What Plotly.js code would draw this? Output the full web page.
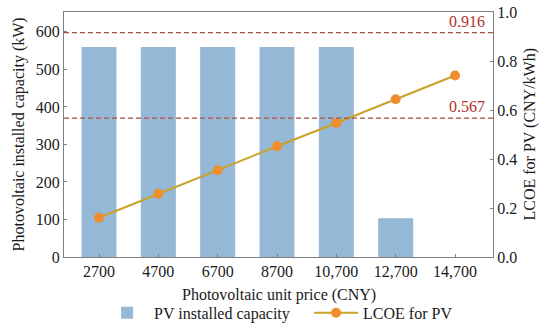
<!DOCTYPE html>
<html>
<head>
<meta charset="utf-8">
<script src="https://cdn.plot.ly/plotly-3.0.1.min.js"></script>
<style>html,body{margin:0;padding:0;background:#fff;}#chart{width:550px;height:331px;}</style>
</head>
<body>
<div id="chart"></div>
<script>
var categories = ["2700", "4700", "6700", "8700", "10,700", "12,700", "14,700"];
var capacity = [560, 560, 560, 560, 560, 103, 0];
var lcoe = [0.160, 0.258, 0.354, 0.452, 0.547, 0.644, 0.741];
var refValues = [0.916, 0.567];
var refLabels = ["0.916", "0.567"];
var xTitle = "Photovoltaic unit price (CNY)";
var yTitle = "Photovoltaic installed capacity (kW)";
var y2Title = "LCOE for PV (CNY/kWh)";

var font = {family: "Liberation Serif, Times New Roman, serif", size: 16, color: "#1a1a1a"};
var axisColor = "#7f7f7f";

var traces = [
  {
    type: "bar", x: categories, y: capacity, name: "PV installed capacity",
    marker: {color: "#94b8d6"}, width: 0.59, yaxis: "y", legend: "legend"
  },
  {
    type: "scatter", mode: "lines+markers", x: categories, y: lcoe, name: "LCOE for PV",
    line: {color: "#c9a227", width: 2}, marker: {color: "#ef8e2c", size: 10},
    yaxis: "y2", legend: "legend2"
  }
];

var shapes = refValues.map(function (v) {
  return {type: "line", xref: "paper", x0: 0, x1: 1, yref: "y2", y0: v, y1: v,
          line: {color: "#a9503c", width: 1.3, dash: "5px,3px"}};
});
var annotations = refValues.map(function (v, i) {
  return {xref: "paper", x: 0.985, xanchor: "right", yref: "y2", y: v, yanchor: "bottom",
          text: refLabels[i], showarrow: false, yshift: 1,
          font: {family: font.family, size: 16, color: "#b2322a"}};
});
annotations.push(
  {xref: "paper", yref: "paper", x: 0.501, y: -0.155, xanchor: "center", yanchor: "middle",
   text: xTitle, showarrow: false, font: font},
  {xref: "paper", yref: "paper", x: -0.105, y: 0.5, xanchor: "center", yanchor: "middle",
   text: yTitle, textangle: -90, showarrow: false, font: font},
  {xref: "paper", yref: "paper", x: 1.084, y: 0.5, xanchor: "center", yanchor: "middle",
   text: y2Title, textangle: -90, showarrow: false, font: font}
);

function legendAt(xPos) {
  return {orientation: "h", x: xPos, xanchor: "left", xref: "container",
          y: 0.055, yanchor: "middle", yref: "container",
          font: {family: font.family, size: 16}, itemwidth: 44, bgcolor: "rgba(0,0,0,0)"};
}

var layout = {
  width: 550, height: 331,
  margin: {l: 64, r: 57, t: 12, b: 74},
  paper_bgcolor: "#fff", plot_bgcolor: "#fff",
  font: font,
  showlegend: true,
  legend: legendAt(0.182),
  legend2: legendAt(0.562),
  xaxis: {
    type: "category", range: [-0.59, 6.64], automargin: false,
    showline: true, linecolor: axisColor, linewidth: 1, mirror: true,
    ticks: "inside", ticklen: 3, tickcolor: axisColor,
    showgrid: false, zeroline: false,
    tickfont: font
  },
  yaxis: {
    range: [0, 653], tickvals: [0, 100, 200, 300, 400, 500, 600], automargin: false,
    showline: true, linecolor: axisColor, linewidth: 1,
    ticks: "inside", ticklen: 3, tickcolor: axisColor,
    showgrid: false, zeroline: false,
    tickfont: font
  },
  yaxis2: {
    overlaying: "y", side: "right", range: [0, 1], automargin: false,
    tickvals: [0, 0.2, 0.4, 0.6, 0.8, 1.0], ticktext: ["0.0", "0.2", "0.4", "0.6", "0.8", "1.0"],
    showline: true, linecolor: axisColor, linewidth: 1,
    ticks: "inside", ticklen: 3, tickcolor: axisColor,
    showgrid: false, zeroline: false,
    tickfont: font
  },
  shapes: shapes,
  annotations: annotations
};

Plotly.newPlot("chart", traces, layout, {displayModeBar: false, staticPlot: true});
</script>
</body>
</html>
